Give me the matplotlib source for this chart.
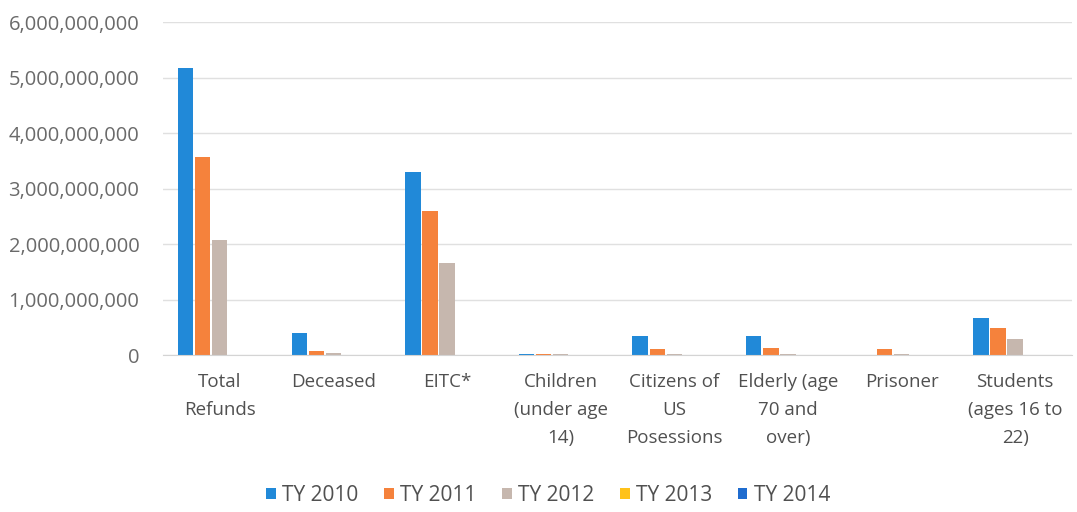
import numpy as np
import matplotlib.pyplot as plt
from matplotlib.ticker import FuncFormatter

categories = ["Total\nRefunds", "Deceased", "EITC*", "Children\n(under age\n14)",
              "Citizens of\nUS\nPosessions", "Elderly (age\n70 and\nover)",
              "Prisoner", "Students\n(ages 16 to\n22)"]
series = ["TY 2010", "TY 2011", "TY 2012", "TY 2013", "TY 2014"]
ty2010 = [5.18e9, 0.40e9, 3.30e9, 0.02e9, 0.34e9, 0.34e9, 0.0, 0.66e9]
ty2011 = [3.57e9, 0.07e9, 2.60e9, 0.02e9, 0.10e9, 0.12e9, 0.10e9, 0.48e9]
ty2012 = [2.07e9, 0.03e9, 1.66e9, 0.02e9, 0.02e9, 0.02e9, 0.02e9, 0.29e9]
ty2013 = [0, 0, 0, 0, 0, 0, 0, 0]
ty2014 = [0, 0, 0, 0, 0, 0, 0, 0]
colors = ["#2189d8", "#f5823c", "#c6b7ae", "#ffc21a", "#1f6ccf"]

plt.rcParams['font.family'] = ['Open Sans', 'DejaVu Sans']

fig = plt.figure(figsize=(10.77, 5.12), dpi=100)
ax = fig.add_axes([0.1513, 0.3066, 0.844, 0.6504])

x = np.arange(len(categories))
w = 0.15
for i, (vals, name) in enumerate(zip([ty2010, ty2011, ty2012, ty2013, ty2014], series)):
    ax.bar(x + (i - 2) * w, vals, w * 0.9, color=colors[i], label=name)

ax.set_ylim(0, 6e9)
ax.set_xlim(-0.5, 7.5)
ax.set_yticks(np.arange(0, 6.1e9, 1e9))
ax.yaxis.set_major_formatter(FuncFormatter(lambda v, p: f"{v:,.0f}"))
ax.set_xticks(x)
ax.set_xticklabels(categories, linespacing=1.7)
ax.grid(axis="y", color="#e0e0e0", lw=1)
ax.set_axisbelow(True)
for s in ["top", "right", "left"]:
    ax.spines[s].set_visible(False)
ax.spines["bottom"].set_color("#d4d4d4")
ax.tick_params(axis="y", length=0, colors="#6a6a6a", labelsize=14.5, pad=17)
ax.tick_params(axis="x", length=0, colors="#505050", labelsize=13.5, pad=13)

fig.legend(loc="center", bbox_to_anchor=(0.509, 0.033), bbox_transform=fig.transFigure,
           ncol=5, frameon=False, fontsize=15, labelcolor="#505050",
           handlelength=0.45, handleheight=0.45, handletextpad=0.3, columnspacing=1.25)

fig.savefig("out.png", dpi=100)
